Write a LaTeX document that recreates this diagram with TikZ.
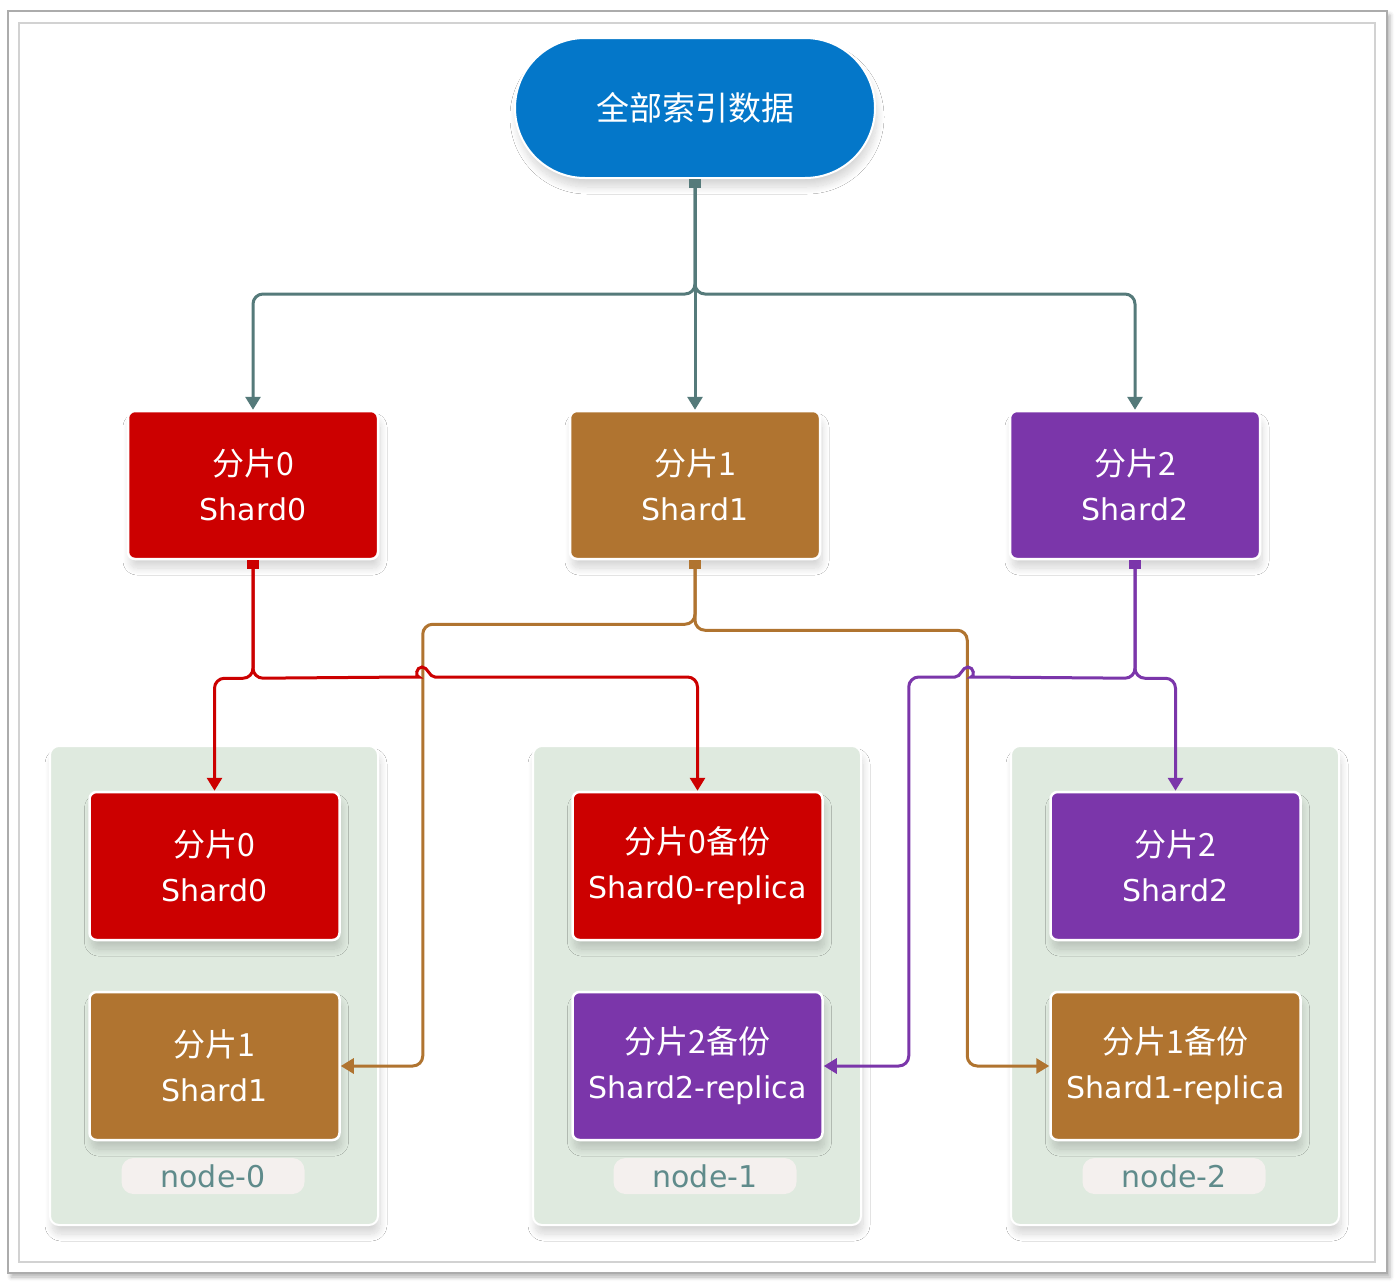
\documentclass[tikz,border=0pt]{standalone}
\usepackage{fontspec}
\setmainfont{DejaVu Sans}
\newfontfamily\cjk{Noto Sans CJK SC}
\usetikzlibrary{arrows.meta,calc,shadows.blur}
\definecolor{topblue}{HTML}{0477C9}
\definecolor{sred}{HTML}{CC0000}
\definecolor{sbrown}{HTML}{B07430}
\definecolor{spurple}{HTML}{7B36AA}
\definecolor{cgray}{HTML}{557A7A}
\definecolor{panelgreen}{HTML}{DFEADF}
\definecolor{pillfill}{HTML}{F4F0EE}
\definecolor{pilltext}{HTML}{5F8B8B}
\tikzset{
  softshadow/.style={blur shadow={shadow xshift=2pt, shadow yshift=-9pt, shadow blur radius=7pt, shadow opacity=16, shadow blur steps=14}},
  shardbox/.style={draw=white, line width=2.5pt, rounded corners=7pt, minimum width=250pt, minimum height=148pt, align=center, text=white, inner sep=0pt, font=\fontsize{30}{45}\selectfont, softshadow},
  panel/.style={fill=panelgreen, draw=white, line width=2pt, rounded corners=9pt, minimum width=328pt, minimum height=479pt, softshadow},
  pill/.style={fill=pillfill, rounded corners=12pt, minimum width=183pt, minimum height=36pt, inner sep=0pt, text=pilltext, font=\fontsize{30}{36}\selectfont},
  conn/.style={line width=3pt, rounded corners=10pt, {Square[width=12pt,length=9pt]}-{Triangle[width=15pt,length=13pt]}},
}
\newcommand{\cj}[1]{{\cjk\fontsize{32}{45}\selectfont #1}}
\begin{document}
\begin{tikzpicture}[x=1pt,y=-1pt]
\useasboundingbox (0,0) rectangle (1400,1283);
% frame
\draw[draw=gray!65, line width=1.5pt, fill=white, blur shadow={shadow xshift=3pt, shadow yshift=-4pt, shadow blur radius=4pt, shadow opacity=30}] (8,11) rectangle (1387,1273);
\draw[draw=gray!35, line width=2pt] (19,23) rectangle (1375,1262);

% panels
\node[panel] (p0) at (214,985.5) {};
\node[panel] (p1) at (697,985.5) {};
\node[panel] (p2) at (1175,985.5) {};
\node[pill] (l0) at (213,1176) {node-0};
\node[pill] (l1) at (705,1176) {node-1};
\node[pill] (l2) at (1174,1176) {node-2};

% top node
\node[fill=topblue, draw=white, line width=2pt, rounded corners=70pt, minimum width=360pt, minimum height=140pt, text=white, font=\cjk\fontsize{33}{40}\selectfont, softshadow] (top) at (695,108) {全部索引数据};

% level 2
\node[shardbox, fill=sred] (s0) at (253,485) {\cj{分片0}\\Shard0};
\node[shardbox, fill=sbrown] (s1) at (695,485) {\cj{分片1}\\Shard1};
\node[shardbox, fill=spurple] (s2) at (1135,485) {\cj{分片2}\\Shard2};

% level 3
\node[shardbox, fill=sred] (a0) at (214.5,866) {\cj{分片0}\\Shard0};
\node[shardbox, fill=sbrown] (b0) at (214.5,1066) {\cj{分片1}\\Shard1};
\node[shardbox, fill=sred] (a1) at (697.5,866) {\cj{分片0备份}\\Shard0-replica};
\node[shardbox, fill=spurple] (b1) at (697.5,1066) {\cj{分片2备份}\\Shard2-replica};
\node[shardbox, fill=spurple] (c0) at (1175.5,866) {\cj{分片2}\\Shard2};
\node[shardbox, fill=sbrown] (c1) at (1175.5,1066) {\cj{分片1备份}\\Shard1-replica};

% top connectors
\draw[conn, cgray] (top.south) -- ++(0,115) -| (s0.north);
\draw[conn, cgray] (top.south) -- (s1.north);
\draw[conn, cgray] (top.south) -- ++(0,115) -| (s2.north);

% brown connectors
\draw[conn, sbrown] (s1.south) -- ++(0,64) -| ($(b0.east)+(82,0)$) -- (b0.east);
\draw[conn, sbrown] (s1.south) -- ++(0,70) -| ($(c1.west)+(-82,0)$) -- (c1.west);

% red connectors
\draw[conn, sred] (s0.south) -- ++(0,118) -| (a0.north);
\draw[conn, sred] (s0.south) -- ++(0,118) -- (409,677) [sharp corners] .. controls (415,677) and (416,667) .. (422,667) .. controls (428,667) and (429,677) .. (435,677) [rounded corners=10pt] -| (a1.north);

% purple connectors
\draw[conn, spurple] (s2.south) -- ++(0,118) -| (c0.north);
\draw[conn, spurple] (s2.south) -- ++(0,118) -- (981,677) [sharp corners] .. controls (975,677) and (974,667) .. (968,667) .. controls (962,667) and (961,677) .. (955,677) [rounded corners=10pt] -| ($(b1.east)+(85,0)$) -- (b1.east);
\end{tikzpicture}
\end{document}
